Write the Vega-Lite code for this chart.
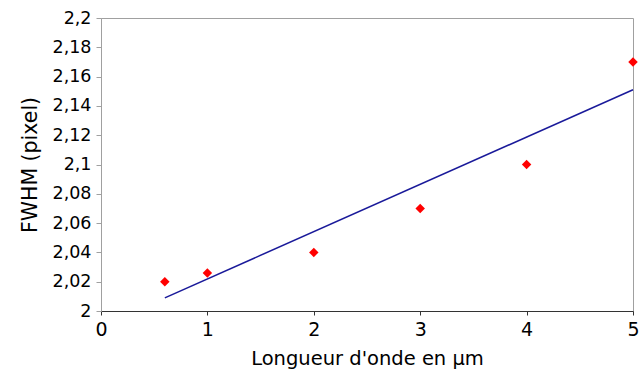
{
  "$schema": "https://vega.github.io/schema/vega-lite/v6.json",
  "autosize": "none",
  "width": 532,
  "height": 293,
  "padding": {"left": 101, "top": 18, "right": 7, "bottom": 66},
  "background": "white",
  "config": {
    "font": "DejaVu Sans",
    "view": {"stroke": "#a0a0a0", "strokeWidth": 1},
    "axis": {"grid": false, "labelFont": "DejaVu Sans", "titleFont": "DejaVu Sans", "labelColor": "black", "titleColor": "black", "titleFontWeight": "normal", "labelOverlap": false}
  },
  "encoding": {
    "x": {
      "field": "x", "type": "quantitative",
      "scale": {"domain": [0, 5], "nice": false, "zero": false},
      "axis": {"title": "Longueur d'onde en µm", "values": [0, 1, 2, 3, 4, 5], "format": "d", "labelFontSize": 19, "titleFontSize": 19.5, "tickSize": 4, "domainColor": "#333333", "tickColor": "#333333", "labelPadding": 5, "titlePadding": 10, "labelFlush": false, "labelOverlap": false, "labelBound": false}
    },
    "y": {
      "field": "y", "type": "quantitative",
      "scale": {"domain": [2, 2.2], "nice": false, "zero": false},
      "axis": {"title": "FWHM (pixel)", "values": [2, 2.02, 2.04, 2.06, 2.08, 2.1, 2.12, 2.14, 2.16, 2.18, 2.2], "labelExpr": "replace(format(datum.value, '.2~f'), '.', ',')", "labelFontSize": 17.5, "titleFontSize": 20.5, "tickSize": 5, "domainColor": "#a0a0a0", "tickColor": "#a0a0a0", "labelPadding": 5, "titlePadding": 12, "labelFlush": false, "labelOverlap": false, "labelBound": false}
    }
  },
  "layer": [
    {
      "data": {"values": [
        {"x": 0.6, "y": 2.009},
        {"x": 5, "y": 2.151}
      ]},
      "mark": {"type": "line", "color": "#1a1a9a", "strokeWidth": 1.5}
    },
    {
      "data": {"values": [
        {"x": 0.6, "y": 2.02},
        {"x": 1, "y": 2.026},
        {"x": 2, "y": 2.04},
        {"x": 3, "y": 2.07},
        {"x": 4, "y": 2.1},
        {"x": 5, "y": 2.17}
      ]},
      "mark": {"type": "point", "shape": "diamond", "filled": true, "color": "#ff0000", "size": 90, "opacity": 1}
    }
  ]
}
